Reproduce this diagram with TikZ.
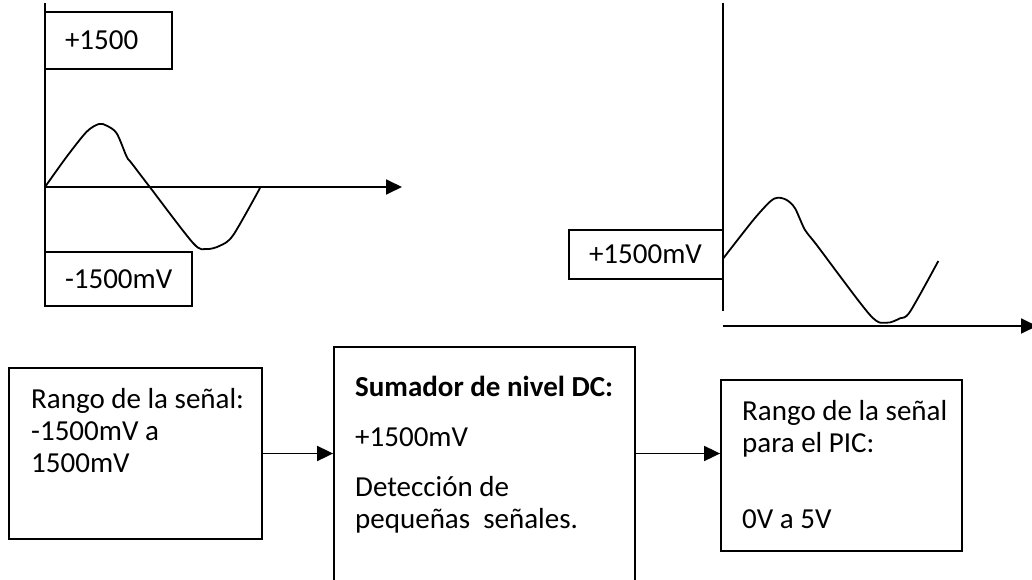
\documentclass[tikz,border=0pt]{standalone}
\usepackage{fontspec}
\setmainfont{Carlito}
\usetikzlibrary{arrows.meta}

\begin{document}
\begin{tikzpicture}[x=1pt,y=1pt,yscale=-1,xscale=1,
  every node/.style={font=\fontsize{29}{32}\selectfont},
  box/.style={draw,line width=1.8pt,inner sep=0pt},
  lbl/.style={box,align=left,inner xsep=20pt},
  txt/.style={anchor=base west,inner sep=0pt},
  axis/.style={line width=1.8pt,-{Triangle[length=16pt,width=15pt]}},
  wave/.style={line width=1.8pt,line join=round}]
\useasboundingbox (0,0) rectangle (1032,580);
\clip (0,0) rectangle (1032,580);

%Axes: signal before the adder
\coordinate (o1) at (45,187);
\draw[line width=1.8pt] (45,3) -- (45,275);
\draw[axis] (o1) -- (402,187);
%Curve
\draw[wave] plot[smooth,tension=0.5] coordinates {(45,187) (66.7,156.7) (86.7,131.7) (99,124) (106.7,125.7) (116.7,133.3) (126.7,156.7) (131.7,163.3) (150,187.3) (193.3,243.3) (206.7,249) (220,245.7) (233.3,235) (260,188)};
%Shape: Rectangle
\node[lbl,text width=87pt,minimum height=57pt] (vmax) at (108.5,40.5) {+1500};
%Shape: Rectangle
\node[lbl,text width=107pt,minimum height=54pt] (vmin) at (118.5,279) {\mbox{-1500mV}};

%Axes: signal after the adder
\coordinate (o2) at (723,326);
\draw[line width=1.8pt] (723,3) -- (723,311);
\draw[axis] (o2) -- (1037,326);
%Curve
\draw[wave] plot[smooth,tension=0.5] coordinates {(723.3,258.3) (753.3,220) (770,201.7) (777.7,197.7) (786.7,200) (795,208.3) (805,230) (816.7,245) (870,315) (886.7,322.7) (900,318.3) (910,311.7) (938.3,261)};
%Shape: Rectangle
\node[lbl,text width=114pt,minimum height=49pt] (voff) at (646,254.5) {\mbox{+1500mV}};

%Shape: Rectangle
\node[box,minimum width=253pt,minimum height=171pt] (rango) at (135.5,453.5) {};
%Shape: Rectangle
\node[box,minimum width=301pt,minimum height=273pt] (sumador) at (484.5,483.5) {};
%Shape: Rectangle
\node[box,minimum width=241pt,minimum height=171pt] (pic) at (841.5,465.5) {};

%Straight Lines
\draw[axis] (rango.east) -- (rango.east -| sumador.west);
\draw[axis] (sumador.east |- rango.east) -- (pic.west |- rango.east);

% Text Node
\node[txt] (r1) at (31,408) {Rango de la señal:};
\node[txt] (r2) at (31,440) {-1500mV a};
\node[txt] (r3) at (31,472) {1500mV};
% Text Node
\node[txt,font=\fontsize{29}{32}\selectfont\bfseries] (s1) at (355,396) {Sumador de nivel DC:};
\node[txt] (s2) at (355,446) {+1500mV};
\node[txt] (s3) at (355,496) {Detección de};
\node[txt] (s4) at (355,528) {pequeñas~ señales.};
% Text Node
\node[txt] (p1) at (742,420) {Rango de la señal};
\node[txt] (p2) at (742,452) {para el PIC:};
\node[txt] (p3) at (742,528) {0V a 5V};

\end{tikzpicture}
\end{document}
